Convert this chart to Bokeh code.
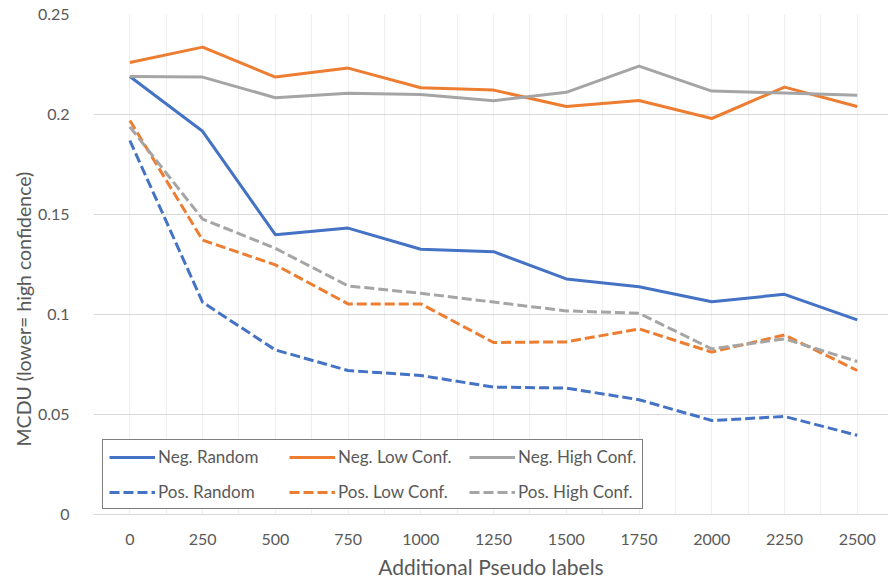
from bokeh.plotting import figure
from bokeh.models import FixedTicker, NumeralTickFormatter, Legend, LegendItem, Range1d, Title
from bokeh.embed import file_html
from bokeh.resources import INLINE

# Number of additional pseudo labels (category axis)
pseudo_labels = ["0", "250", "500", "750", "1000", "1250", "1500", "1750", "2000", "2250", "2500"]

# MCDU per setting
neg_random = [0.219, 0.1916, 0.1399, 0.1432, 0.1326, 0.1314, 0.1178, 0.1139, 0.1064, 0.1101, 0.0973]
neg_low_conf = [0.226, 0.2337, 0.2187, 0.2232, 0.2134, 0.2122, 0.2040, 0.2070, 0.1980, 0.2137, 0.2040]
neg_high_conf = [0.219, 0.2187, 0.2084, 0.2106, 0.2100, 0.2069, 0.2111, 0.2242, 0.2117, 0.2107, 0.2096]
pos_random = [0.187, 0.1061, 0.0823, 0.0720, 0.0695, 0.0637, 0.0632, 0.0574, 0.0470, 0.0490, 0.0396]
pos_low_conf = [0.197, 0.1372, 0.1248, 0.1053, 0.1053, 0.0860, 0.0863, 0.0928, 0.0812, 0.0898, 0.0720]
pos_high_conf = [0.1938, 0.1477, 0.1331, 0.1143, 0.1106, 0.1062, 0.1018, 0.1006, 0.0828, 0.0878, 0.0765]

y_ticks = [0, 0.05, 0.1, 0.15, 0.2, 0.25]

BLUE = "#4472C4"
ORANGE = "#ED7D31"
GRAY = "#A5A5A5"
TEXT = "#595959"
FONT = "Lato"

xs = list(range(len(pseudo_labels)))

p = figure(
    width=888, height=581,
    output_backend="svg", toolbar_location=None,
    x_range=Range1d(-0.5, 10.43), y_range=Range1d(0, 0.25),
    min_border_left=93, min_border_right=0, min_border_top=14, min_border_bottom=66,
)
p.outline_line_color = None
p.background_fill_color = "white"
p.border_fill_color = "white"

# Axes
p.xaxis.ticker = FixedTicker(ticks=xs)
p.xaxis.major_label_overrides = {i: lab for i, lab in enumerate(pseudo_labels)}
p.yaxis.ticker = FixedTicker(ticks=y_ticks)
p.yaxis.formatter = NumeralTickFormatter(format="0.[00]")

for ax in (p.xaxis[0], p.yaxis[0]):
    ax.major_tick_line_color = None
    ax.minor_tick_line_color = None
    ax.major_label_text_color = TEXT
    ax.major_label_text_font = FONT
    ax.axis_label_text_color = TEXT
    ax.axis_label_text_font = FONT
    ax.axis_label_text_font_style = "normal"

p.xaxis.axis_line_color = "#d9d9d9"
p.xaxis.major_label_text_font_size = "16px"
p.xaxis.major_label_standoff = 13
p.xaxis.axis_label = "Additional Pseudo labels"
p.xaxis.axis_label_text_font_size = "21px"
p.xaxis.axis_label_standoff = 6

p.yaxis.axis_line_color = None
p.yaxis.major_label_text_font_size = "16px"
p.yaxis.major_label_standoff = 18

# Y title, placed from the bottom of the plot area so it sits centred
# over frame plus category labels
p.add_layout(Title(
    text="MCDU (lower= high confidence)", align="left", offset=68,
    text_font=FONT, text_font_size="19.5px", text_color=TEXT,
    text_font_style="normal", standoff=0,
), "left")

# Grid: light verticals at categories and between them
p.xgrid.ticker = FixedTicker(ticks=[i * 0.5 - 0.5 for i in range(23)])
p.xgrid.grid_line_color = "#efefef"
p.xgrid.grid_line_width = 1
p.ygrid.ticker = FixedTicker(ticks=y_ticks)
p.ygrid.grid_line_color = "#d9d9d9"
p.ygrid.grid_line_width = 1

DASH = "10 4"
series = [
    ("Neg. Random", neg_random, BLUE, "solid"),
    ("Neg. Low Conf.", neg_low_conf, ORANGE, "solid"),
    ("Neg. High Conf.", neg_high_conf, GRAY, "solid"),
    ("Pos. Random", pos_random, BLUE, DASH),
    ("Pos. Low Conf.", pos_low_conf, ORANGE, DASH),
    ("Pos. High Conf.", pos_high_conf, GRAY, DASH),
]

items = []
for name, vals, color, dash in series:
    r = p.line(xs, vals, line_color=color, line_width=3, line_dash=dash, line_join="round")
    items.append(LegendItem(label=name, renderers=[r]))

legend = Legend(
    items=items,
    location=(9, 5),
    orientation="horizontal",
    ncols=3,
    border_line_color="black",
    border_line_width=1.2,
    background_fill_color="white",
    background_fill_alpha=1,
    label_text_font=FONT,
    label_text_font_size="17px",
    label_text_color=TEXT,
    glyph_width=46,
    glyph_height=20,
    label_height=20,
    label_width=117,
    label_standoff=3,
    spacing=14,
    padding=6,
    margin=0,
)
p.add_layout(legend, "center")

open("out.html", "w").write(file_html(p, INLINE))
